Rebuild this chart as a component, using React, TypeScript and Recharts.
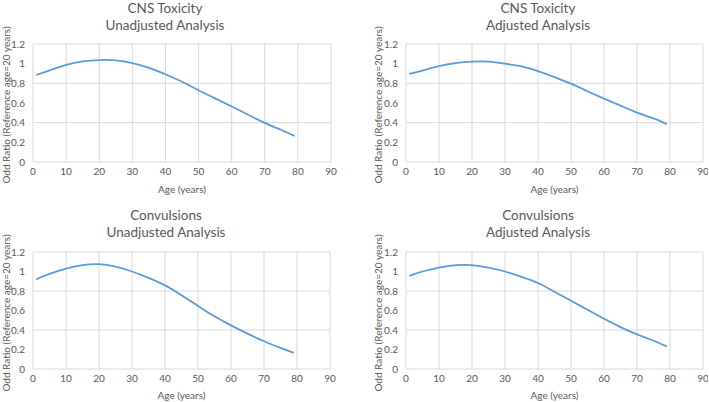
import { LineChart, Line, XAxis, YAxis, CartesianGrid } from "recharts";

const ages = [1, 5, 10, 15, 20, 25, 30, 35, 40, 45, 50, 55, 60, 65, 70, 75, 79];
const cnsUnadjusted = [0.885, 0.932, 0.988, 1.024, 1.037, 1.033, 1.006, 0.958, 0.892, 0.816, 0.73, 0.647, 0.565, 0.48, 0.398, 0.325, 0.265];
const cnsAdjusted = [0.895, 0.93, 0.975, 1.005, 1.02, 1.02, 1.0, 0.972, 0.925, 0.864, 0.797, 0.72, 0.645, 0.573, 0.502, 0.443, 0.385];
const convUnadjusted = [0.92, 0.975, 1.03, 1.065, 1.075, 1.05, 1.0, 0.935, 0.858, 0.757, 0.647, 0.54, 0.447, 0.363, 0.285, 0.217, 0.165];
const convAdjusted = [0.955, 1.0, 1.04, 1.065, 1.065, 1.04, 1.0, 0.945, 0.882, 0.792, 0.7, 0.607, 0.515, 0.43, 0.355, 0.29, 0.232];
const xTicks = [0, 10, 20, 30, 40, 50, 60, 70, 80, 90];
const yTicks = [0, 0.2, 0.4, 0.6, 0.8, 1, 1.2];

const FONT = "Lato, 'Liberation Sans', sans-serif";
const GRAY = "#595959";

type PanelProps = {
  left: number;
  top: number;
  title: string;
  subtitle: string;
  values: number[];
  plotLeft: number;
  plotRight: number;
  plotTop: number;
  plotBottom: number;
  titleX: number;
  titleY: number;
  yLabelX: number;
  xLabelY: number;
};

function Panel(p: PanelProps) {
  const W = 354;
  const H = 201;
  const data = ages.map((age, i) => ({ age, value: p.values[i] }));
  const yAxisW = 20;
  const xAxisH = 20;
  return (
    <div style={{ position: "absolute", left: p.left, top: p.top, width: W, height: H }}>
      <div
        style={{
          position: "absolute",
          left: p.titleX - 100,
          width: 200,
          top: p.titleY - 7,
          textAlign: "center",
          fontFamily: FONT,
          fontSize: 13.5,
          lineHeight: "17px",
          color: GRAY,
        }}
      >
        {p.title}
        <br />
        {p.subtitle}
      </div>
      <LineChart
        width={W}
        height={H}
        data={data}
        margin={{
          left: p.plotLeft - yAxisW,
          right: W - p.plotRight,
          top: p.plotTop,
          bottom: H - p.plotBottom - xAxisH,
        }}
      >
        <CartesianGrid stroke="#d9d9d9" />
        <XAxis
          dataKey="age"
          type="number"
          domain={[0, 90]}
          ticks={xTicks}
          height={xAxisH}
          axisLine={false}
          tickLine={false}
          tickMargin={0}
          tick={{ fill: GRAY, fontSize: 10, fontFamily: FONT }}
        />
        <YAxis
          type="number"
          domain={[0, 1.2]}
          ticks={yTicks}
          width={yAxisW}
          axisLine={false}
          tickLine={false}
          tick={{ fill: GRAY, fontSize: 10, fontFamily: FONT }}
        />
        <Line
          type="natural"
          dataKey="value"
          stroke="#5b9bd5"
          strokeWidth={1.8}
          dot={false}
          isAnimationActive={false}
        />
      </LineChart>
      <div
        style={{
          position: "absolute",
          left: p.yLabelX - 100,
          top: (p.plotTop + p.plotBottom) / 2 + 2 - 7,
          width: 200,
          height: 14,
          lineHeight: "14px",
          textAlign: "center",
          transform: "rotate(-90deg)",
          fontFamily: FONT,
          fontSize: 10,
          color: GRAY,
          whiteSpace: "nowrap",
        }}
      >
        Odd Ratio (Reference age=20 years)
      </div>
      <div
        style={{
          position: "absolute",
          left: (p.plotLeft + p.plotRight) / 2 - 60,
          top: p.xLabelY - 7,
          width: 120,
          lineHeight: "14px",
          textAlign: "center",
          fontFamily: FONT,
          fontSize: 10,
          color: GRAY,
        }}
      >
        Age (years)
      </div>
    </div>
  );
}

export default function App() {
  return (
    <div style={{ position: "absolute", left: 0, top: 0, width: 709, height: 402, background: "#fff" }}>
      <Panel
        left={0}
        top={0}
        title="CNS Toxicity"
        subtitle="Unadjusted Analysis"
        values={cnsUnadjusted}
        plotLeft={33}
        plotRight={331}
        plotTop={44}
        plotBottom={162}
        titleX={165}
        titleY={7}
        yLabelX={6}
        xLabelY={189}
      />
      <Panel
        left={354}
        top={0}
        title="CNS Toxicity"
        subtitle="Adjusted Analysis"
        values={cnsAdjusted}
        plotLeft={52}
        plotRight={349}
        plotTop={44}
        plotBottom={162}
        titleX={184}
        titleY={7}
        yLabelX={24}
        xLabelY={189}
      />
      <Panel
        left={0}
        top={201}
        title="Convulsions"
        subtitle="Unadjusted Analysis"
        values={convUnadjusted}
        plotLeft={33}
        plotRight={330}
        plotTop={51}
        plotBottom={168}
        titleX={166}
        titleY={13}
        yLabelX={6}
        xLabelY={194}
      />
      <Panel
        left={354}
        top={201}
        title="Convulsions"
        subtitle="Adjusted Analysis"
        values={convAdjusted}
        plotLeft={52}
        plotRight={349}
        plotTop={51}
        plotBottom={168}
        titleX={184}
        titleY={13}
        yLabelX={24}
        xLabelY={194}
      />
    </div>
  );
}
